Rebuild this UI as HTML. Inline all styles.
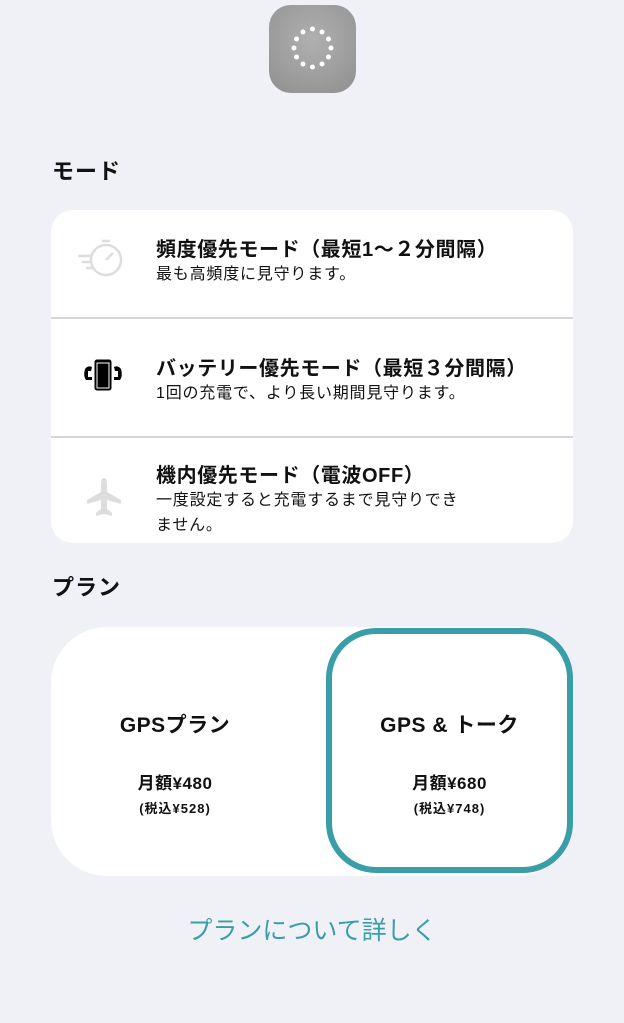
<!DOCTYPE html>
<html><head><meta charset="utf-8"><style>
body{margin:0;width:624px;height:1023px;background:#f0f1f6;font-family:"Liberation Sans","Noto Sans CJK JP",sans-serif;color:#111;position:relative;overflow:hidden}
.a{position:absolute}
.h{font-size:22px;font-weight:bold;letter-spacing:1px}
.t{font-size:20px;font-weight:bold;left:156px;white-space:nowrap;letter-spacing:0.6px}
.s{font-size:16px;left:156px;line-height:25px;width:360px;letter-spacing:0.8px}
.div{position:absolute;left:51px;width:522px;height:2px;background:#d6d6d9}
.pc{position:absolute;text-align:center}
</style></head><body>
<div class="a" style="left:269px;top:5px;width:87px;height:88px;border-radius:22px;background:radial-gradient(circle at 50% 40%,#b0b0b0,#8f8f8f)"></div>
<svg class="a" style="left:269px;top:5px" width="87" height="88">
<g fill="#fff">
<circle cx="43.5" cy="24" r="2.5"/><circle cx="53" cy="27" r="2.5"/><circle cx="59.5" cy="34" r="2.5"/><circle cx="62" cy="43" r="2.5"/><circle cx="59.5" cy="52" r="2.5"/><circle cx="53" cy="59" r="2.5"/><circle cx="43.5" cy="62" r="2.5"/><circle cx="34" cy="59" r="2.5"/><circle cx="27.5" cy="52" r="2.5"/><circle cx="25" cy="43" r="2.5"/><circle cx="27.5" cy="34" r="2.5"/><circle cx="34" cy="27" r="2.5"/>
</g></svg>
<div class="a h" style="left:52px;top:154px">モード</div>
<div class="a" style="left:51px;top:210px;width:522px;height:333px;background:#fff;border-radius:22px"></div>
<div class="div" style="top:317px"></div>
<div class="div" style="top:436px"></div>
<svg class="a" style="left:76px;top:236px" width="50" height="44"><g fill="none" stroke="#ddd" stroke-width="2.5"><circle cx="30" cy="24" r="15"/><line x1="30" y1="24" x2="37" y2="17"/><line x1="26" y1="5" x2="34" y2="5"/><line x1="2" y1="20" x2="16" y2="20"/><line x1="6" y1="26" x2="16" y2="26"/><line x1="10" y1="32" x2="17" y2="32"/></g></svg>
<div class="a t" style="top:233px">頻度優先モード（最短1〜２分間隔）</div>
<div class="a s" style="top:262px">最も高頻度に見守ります。</div>
<svg class="a" style="left:82px;top:357px" width="42" height="36"><rect x="13" y="3" width="16" height="30" rx="2" fill="#000" stroke="#000"/><rect x="15" y="6" width="12" height="25" fill="#000" stroke="#fff" stroke-width="1"/><path d="M3 12 q3-4 7-2 l-1 4 h-3 v6 h4 v3 h-6 q-3-4 -1-11z" fill="#000"/><path d="M39 12 q-3-4 -7-2 l1 4 h3 v6 h-4 v3 h6 q3-4 1-11z" fill="#000"/></svg>
<div class="a t" style="top:352px">バッテリー優先モード（最短３分間隔）</div>
<div class="a s" style="top:381px">1回の充電で、より長い期間見守ります。</div>
<svg class="a" style="left:84px;top:476px" width="40" height="40"><path d="M20 2 q3 0 3 6 v8 l14 8 v4 l-14-4 v9 l5 4 v3 l-8-2 l-8 2 v-3 l5-4 v-9 l-14 4 v-4 l14-8 v-8 q0-6 3-6z" fill="#ddd"/></svg>
<div class="a t" style="top:459px">機内優先モード（電波OFF）</div>
<div class="a s" style="top:488px">一度設定すると充電するまで見守りでき<br>ません。</div>
<div class="a h" style="left:52px;top:570px">プラン</div>
<div class="a" style="left:51px;top:627px;width:522px;height:249px;background:#fff;border-radius:56px"></div>
<div class="a" style="left:326px;top:628px;width:235px;height:233px;border:6px solid #3a9ea8;border-radius:50px"></div>
<div class="pc" style="left:60px;width:230px;top:709px;font-size:21px;font-weight:bold;letter-spacing:0.5px">GPSプラン</div>
<div class="pc" style="left:60px;width:230px;top:769px;font-size:17px;font-weight:bold;letter-spacing:0.5px">月額¥480</div>
<div class="pc" style="left:60px;width:230px;top:798px;font-size:13px;font-weight:bold;letter-spacing:1px">(税込¥528)</div>
<div class="pc" style="left:332px;width:235px;top:709px;font-size:21px;font-weight:bold;letter-spacing:0.5px">GPS &amp; トーク</div>
<div class="pc" style="left:332px;width:235px;top:769px;font-size:17px;font-weight:bold;letter-spacing:0.5px">月額¥680</div>
<div class="pc" style="left:332px;width:235px;top:798px;font-size:13px;font-weight:bold;letter-spacing:1px">(税込¥748)</div>
<div class="pc" style="left:0;width:624px;top:911px;font-size:25px;color:#3a9ea8">プランについて詳しく</div>
</body></html>
